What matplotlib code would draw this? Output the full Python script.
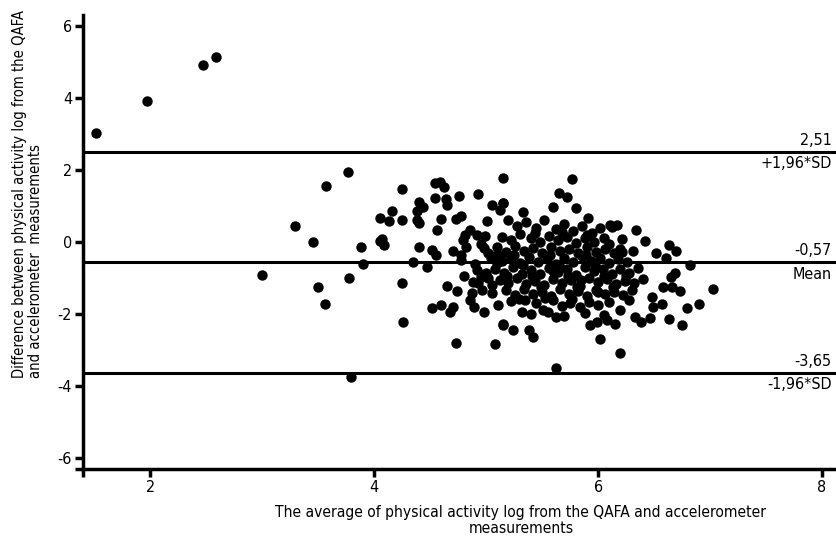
import matplotlib
matplotlib.use('Agg')
import matplotlib.pyplot as plt
from matplotlib import font_manager

# Pick a narrow font if one is installed
names = {f.name for f in font_manager.fontManager.ttflist}
narrow = 'Liberation Sans Narrow' if 'Liberation Sans Narrow' in names else 'DejaVu Sans'
plt.rcParams['font.family'] = [narrow, 'DejaVu Sans']
plt.rcParams['font.stretch'] = 'condensed'

# Bland-Altman data: average (x) and difference (y)
avg = [
    1.52, 1.97, 2.47, 2.59, 3.00, 3.29, 3.45, 3.57, 3.77, 3.78, 3.50, 3.56,
    3.79, 3.88, 3.90, 4.05, 4.05, 4.07, 4.09, 4.13, 4.16, 4.25, 4.25, 4.25,
    4.26, 4.35, 4.38, 4.38, 4.40, 4.40, 4.40, 4.44, 4.47, 4.52, 4.52, 4.54,
    4.54, 4.55, 4.56, 4.59, 4.60, 4.60, 4.62, 4.64, 4.65, 4.65, 4.68, 4.70,
    4.70, 4.73, 4.73, 4.74, 4.76, 4.78, 4.78, 4.78, 4.79, 4.80, 4.81, 4.82,
    4.86, 4.86, 4.87, 4.89, 4.92, 4.92, 4.93, 4.93, 4.95, 4.98, 4.98, 4.99,
    5.01, 5.02, 5.04, 5.05, 5.05, 5.08, 5.10, 5.11, 5.12, 5.15, 5.15, 5.15,
    4.95, 5.02, 4.90, 5.00, 4.88, 5.05, 4.96,
    5.77, 5.65, 5.72, 5.60, 5.80, 5.91, 5.15, 5.33, 6.11, 5.62, 6.02, 5.15,
    5.24, 5.38, 5.42, 5.62, 5.32, 5.35, 5.51, 5.93, 5.99, 6.08, 5.75, 5.84,
    6.34, 6.42, 6.21, 6.17, 6.12, 6.63, 6.70, 6.52, 6.61, 6.31, 6.21, 6.82,
    6.69, 6.65, 6.58, 6.66, 6.73, 7.03, 6.90, 6.79, 6.48, 6.49, 6.57, 6.20,
    6.33, 6.38, 6.46, 6.63, 6.75, 6.15, 6.20,
    5.20, 5.28, 5.36, 5.45, 5.52, 5.62, 5.70, 5.78, 5.86, 5.95, 6.02,
    5.14, 5.22, 5.30, 5.40, 5.48, 5.56, 5.64, 5.72, 5.80, 5.88, 5.96, 6.05, 6.10,
    5.10, 5.18, 5.26, 5.34, 5.42, 5.50, 5.58, 5.66, 5.74, 5.82, 5.90, 5.98, 6.06, 6.14,
    5.05, 5.14, 5.22, 5.30, 5.38, 5.46, 5.54, 5.62, 5.70, 5.78, 5.86, 5.94, 6.02,
    6.10, 6.18, 6.26,
    5.08, 5.16, 5.24, 5.32, 5.40, 5.48, 5.56, 5.64, 5.72, 5.80, 5.88, 5.96, 6.04,
    6.12, 6.20, 6.28, 6.36,
    5.12, 5.20, 5.28, 5.36, 5.44, 5.52, 5.60, 5.68, 5.76, 5.84, 5.92, 6.00, 6.08,
    6.16, 6.24, 6.32, 6.40,
    5.18, 5.26, 5.34, 5.42, 5.50, 5.58, 5.66, 5.74, 5.82, 5.90, 5.98, 6.06, 6.14,
    6.22, 6.30,
    5.22, 5.45, 5.60, 5.68, 5.92, 6.00, 6.10, 6.28,
    5.40, 5.55, 5.70, 5.88, 6.05,
    5.25, 5.33, 5.41, 5.49, 5.57, 5.65, 5.73, 5.81, 5.89, 5.97, 6.05, 6.13,
    5.29, 5.53, 5.77, 6.20, 6.25, 5.44, 5.68, 5.90, 5.19, 5.11, 6.00, 5.85, 5.60,
]
diff = [
    3.04, 3.93, 4.93, 5.15, -0.91, 0.45, 0.01, 1.56, 1.96, -0.99, -1.26, -1.73,
    -3.75, -0.13, -0.61, 0.68, 0.04, 0.07, -0.08, 0.58, 0.87, 1.48, 0.61, -1.15,
    -2.22, -0.55, 0.87, 0.61, 1.11, 0.54, -0.13, 0.98, -0.69, -0.22, -1.85, 1.65,
    1.22, -0.36, 0.33, 1.68, 0.64, -1.75, 1.54, 1.19, 1.03, -1.22, -1.94, -0.25,
    -1.82, 0.64, -2.80, -1.36, 1.28, 0.72, -0.36, -0.50, 0.06, -0.95, 0.19, -0.13,
    0.32, -1.62, -1.43, -1.80, 0.19, -0.78, -1.15, 1.33, -0.97, -0.18, -1.94, 0.17,
    0.58, -1.01, -0.45, 1.03, -1.41, -2.85, -0.59, -1.75, 0.89, 1.79, -2.31, 1.08,
    -0.05, -0.30, -0.60, -0.85, -1.10, -1.20, -1.35,
    1.75, 1.37, 1.25, 0.98, 0.94, 0.66, 1.08, 0.84, 0.47, -3.52, -2.71, -2.27,
    -2.45, -2.45, -2.64, -2.08, -1.94, -1.62, -1.89, -2.31, -2.22, -2.17, -1.71, -1.80,
    0.33, 0.04, 0.07, 0.47, 0.43, -0.08, -0.25, -0.31, -0.45, -0.24, -0.27, -0.64,
    -0.87, -0.97, -1.24, -1.24, -1.36, -1.32, -1.73, -1.85, -1.52, -1.80, -1.73, -1.89,
    -2.08, -2.22, -2.13, -2.15, -2.31, -2.28, -3.08,
    0.62, 0.45, 0.55, 0.40, 0.60, 0.35, 0.50, 0.30, 0.45, 0.25, 0.38,
    0.15, 0.05, 0.22, 0.10, 0.00, 0.18, 0.05, 0.15, -0.02, 0.12, 0.00, 0.10, -0.05,
    -0.15, -0.28, -0.12, -0.25, -0.18, -0.30, -0.14, -0.26, -0.20, -0.30, -0.15, -0.28,
    -0.20, -0.30,
    -0.40, -0.52, -0.45, -0.58, -0.42, -0.55, -0.48, -0.60, -0.44, -0.56, -0.40, -0.52,
    -0.45, -0.58, -0.48, -0.55,
    -0.75, -0.85, -0.70, -0.88, -0.78, -0.90, -0.72, -0.84, -0.76, -0.92, -0.70, -0.82,
    -0.74, -0.88, -0.76, -0.85, -0.72,
    -1.05, -1.15, -1.00, -1.18, -1.08, -1.20, -1.02, -1.14, -1.06, -1.22, -1.00, -1.12,
    -1.04, -1.18, -1.08, -1.15, -1.02,
    -1.35, -1.48, -1.32, -1.45, -1.38, -1.50, -1.30, -1.44, -1.36, -1.50, -1.34, -1.46,
    -1.38, -1.48, -1.35,
    -1.65, -1.70, -1.62, -1.78, -1.66, -1.75, -1.68, -1.62,
    -2.00, -1.95, -2.05, -1.98, -2.02,
    -0.35, -0.65, -0.95, -1.25, -0.35, -0.65, -0.95, -1.25, -0.35, -0.65, -0.95, -1.25,
    -1.60, -1.55, -1.58, -0.20, -0.95, 0.25, 0.28, 0.20, -0.95, -0.35, -1.40, -1.05, -0.80,
]

# Mean difference and limits of agreement
limit_values = [2.51, -0.57, -3.65]
limit_values_text = ['2,51', '-0,57', '-3,65']
limit_names = ['+1,96*SD', 'Mean', '-1,96*SD']

x_ticks = [2, 4, 6, 8]
y_ticks = [-6, -4, -2, 0, 2, 4, 6]

fig = plt.figure(figsize=(8.36, 5.47), dpi=100)
ax = fig.add_axes([0.0993, 0.1426, 0.9007, 0.830])

ax.plot(avg, diff, 'o', color='black', markersize=7.5, markeredgewidth=0)

for val, txt, name in zip(limit_values, limit_values_text, limit_names):
    ax.axhline(val, color='black', linewidth=2.2)
    ax.annotate(txt, xy=(1, val), xycoords=('axes fraction', 'data'),
                xytext=(-3, 3), textcoords='offset points',
                ha='right', va='bottom', fontsize=11.5)
    ax.annotate(name, xy=(1, val), xycoords=('axes fraction', 'data'),
                xytext=(-3, -3), textcoords='offset points',
                ha='right', va='top', fontsize=11.5)

xmin, xmax = 1.40, 8.125
ymin, ymax = -6.32, 6.32
ax.set_xlim(xmin, xmax)
ax.set_ylim(ymin, ymax)

# Prism-style ticks, including unlabeled ones at the axis ends
ax.set_xticks([xmin] + x_ticks)
ax.set_xticklabels([''] + [str(t) for t in x_ticks])
ax.set_yticks([ymin] + y_ticks)
ax.set_yticklabels([''] + [str(t) for t in y_ticks])
ax.tick_params(width=2.5, length=6, labelsize=11.5, pad=2)

for side in ['top', 'right']:
    ax.spines[side].set_visible(False)
for side in ['left', 'bottom']:
    ax.spines[side].set_linewidth(2.5)

fig.text(0.623, 0.02, 'The average of physical activity log from the QAFA and accelerometer\nmeasurements',
         ha='center', va='bottom', fontsize=11.2, linespacing=1.05)
fig.text(0.014, 0.645, 'Difference between physical activity log from the QAFA\nand accelerometer  measurements',
         ha='left', va='center', rotation=90, fontsize=10.6, linespacing=1.1)

plt.savefig('out.png', dpi=100)
